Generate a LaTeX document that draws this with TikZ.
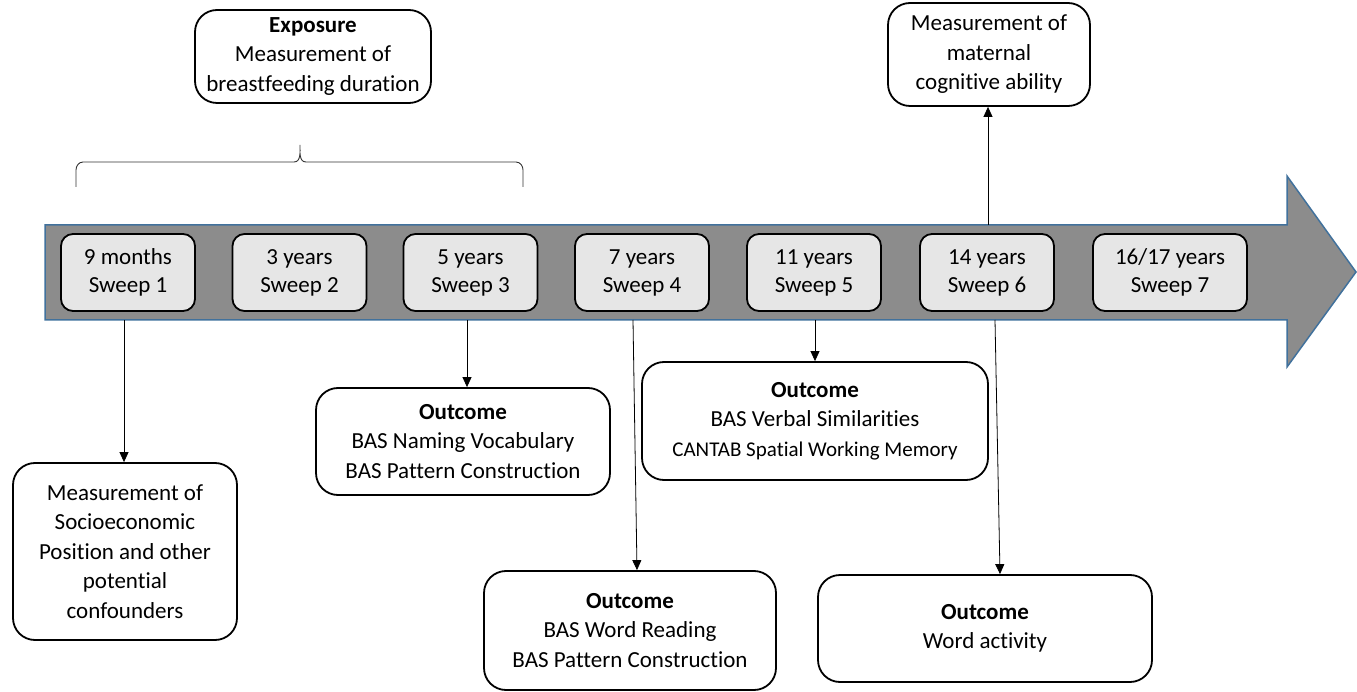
\documentclass[tikz,border=0pt]{standalone}
\usepackage{fontspec}
\setmainfont{Carlito}[Ligatures=NoCommon]
\usetikzlibrary{arrows.meta}
\definecolor{timegray}{RGB}{140,140,140}
\definecolor{timeedge}{RGB}{65,113,156}
\definecolor{sweepfill}{RGB}{230,230,230}

\begin{document}
\begin{tikzpicture}[x=1pt,y=-1pt,
  sweep/.style={draw=black,line width=1.8pt,fill=sweepfill,rounded corners=12pt,
    minimum width=134pt,minimum height=77pt,align=center,inner sep=0pt,
    font=\fontsize{23}{28}\selectfont},
  infobox/.style={draw=black,line width=1.8pt,fill=white,rounded corners=22pt,
    align=center,inner sep=0pt,font=\fontsize{23}{29.5}\selectfont},
  link/.style={-{Triangle[length=10pt,width=9pt]},line width=0.8pt}]
\useasboundingbox (0,0) rectangle (1357,692);

% timeline
\draw[fill=timegray,draw=timeedge,line width=1.5pt]
  (45,225) -- (1287,225) -- (1287,176) -- (1356,272) -- (1287,367)
  -- (1287,320) -- (45,320) -- cycle;

\node[sweep] (s1) at (128,272.5) {9 months\\Sweep 1};
\node[sweep] (s2) at (299.5,272.5) {3 years\\Sweep 2};
\node[sweep] (s3) at (470.5,272.5) {5 years\\Sweep 3};
\node[sweep] (s4) at (642,272.5) {7 years\\Sweep 4};
\node[sweep] (s5) at (814,272.5) {11 years\\Sweep 5};
\node[sweep] (s6) at (987,272.5) {14 years\\Sweep 6};
\node[sweep,minimum width=154pt] (s7) at (1170,272.5) {16/17 years\\Sweep 7};

% exposure
\node[infobox,minimum width=236pt,minimum height=93pt] (expo) at (313,56.5)
  {\textbf{Exposure}\\Measurement of\\breastfeeding duration};
\draw[line width=0.9pt,draw=black!80]
  (76,187) -- (76,170) to[out=90,in=180] (83,162) -- (294,162)
  to[out=0,in=-90] (300,145) to[out=-90,in=180] (306,162) -- (516,162)
  to[out=0,in=90] (523,170) -- (523,187);

% measurements
\node[infobox,minimum width=202pt,minimum height=103pt] (mat) at (989,54.5)
  {Measurement of\\maternal\\cognitive ability};
\node[infobox,minimum width=224pt,minimum height=177pt] (sep) at (125,551.5)
  {Measurement of\\Socioeconomic\\Position and other\\potential\\confounders};

% outcomes
\node[infobox,minimum width=294pt,minimum height=107pt] (nam) at (463,441.5)
  {\textbf{Outcome}\\BAS Naming Vocabulary\\BAS Pattern Construction};
\node[infobox,minimum width=346pt,minimum height=118pt] (vs) at (815,421)
  {\textbf{Outcome}\\BAS Verbal Similarities\\{\fontsize{21}{29.5}\selectfont CANTAB Spatial Working Memory}};
\node[infobox,minimum width=292pt,minimum height=119pt] (rd) at (630,630.5)
  {\textbf{Outcome}\\BAS Word Reading\\BAS Pattern Construction};
\node[infobox,minimum width=334pt,minimum height=107pt] (act) at (985,628.5)
  {\textbf{Outcome}\\Word activity};

% connectors
\coordinate (b1) at (124,320);
\coordinate (b3) at (467,320);
\coordinate (b4) at (633,320);
\coordinate (b5) at (815,320);
\coordinate (b6) at (995,320);
\coordinate (t6) at (988,225);
\draw[link] (b1) -- (b1 |- sep.north);
\draw[link] (b3) -- (b3 |- nam.north);
\draw[link] (b4) -- ([xshift=7pt]rd.north);
\draw[link] (b5) -- (b5 |- vs.north);
\draw[link] (b6) -- ([xshift=15pt]act.north);
\draw[link] (t6) -- (t6 |- mat.south);
\end{tikzpicture}
\end{document}
